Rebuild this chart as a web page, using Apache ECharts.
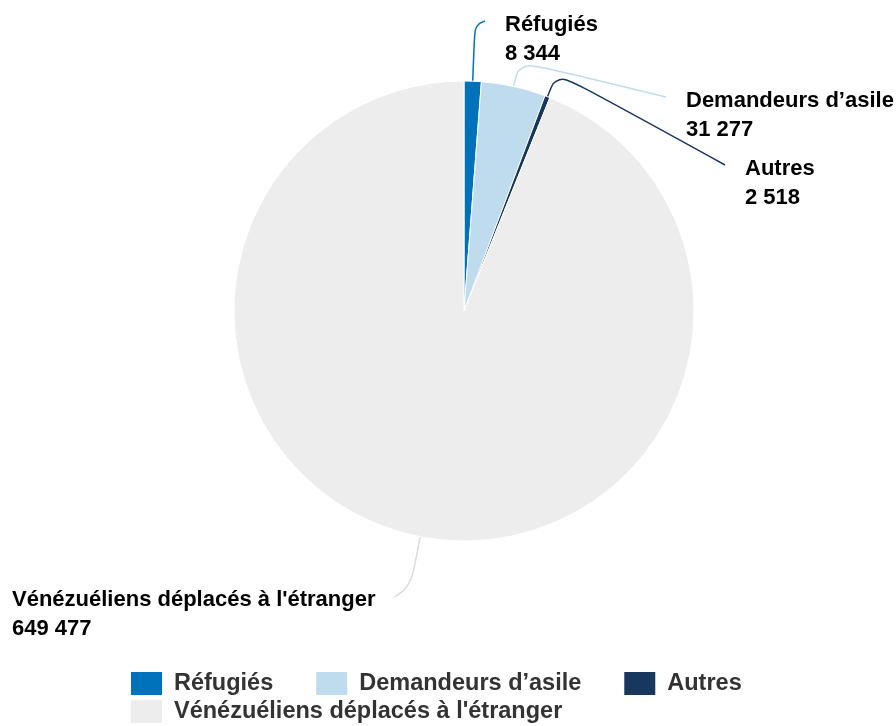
<!DOCTYPE html>
<html>
<head>
<meta charset="utf-8">
<title>Vénézuéliens déplacés</title>
<script src="https://cdn.jsdelivr.net/npm/echarts@6/dist/echarts.min.js"></script>
<style>
  html, body { margin: 0; padding: 0; background: #fff; }
  #chart { width: 896px; height: 726px; }
</style>
</head>
<body>
<div id="chart"></div>
<script>
  var categories = ['Réfugiés', 'Demandeurs d’asile', 'Autres', "Vénézuéliens déplacés à l'étranger"]
  var values = [8344, 31277, 2518, 649477]
  var colors = ['#0072bc', '#bfdcee', '#18375f', '#ededed']
  var lineColors = ['#0072bc', '#bfdcee', '#18375f', '#dcdcdc']

  // where each label sits (left/top of the text block) and how far its line leaves the pie
  var labelPos = [[505, 10], [686, 86], [745, 154], [12, 585]]
  var lineLen = [56, 26, 26, 50]

  var font = '"Liberation Sans", Arial, sans-serif'

  function fmt(v) {
    return String(v).replace(/\B(?=(\d{3})+(?!\d))/g, ' ')
  }

  var chart = echarts.init(document.getElementById('chart'))

  var pieData = categories.map(function (name, i) {
    return {
      name: name,
      value: values[i],
      itemStyle: { color: colors[i] },
      labelLine: { length: lineLen[i], length2: 10, lineStyle: { color: lineColors[i] } }
    }
  })

  chart.setOption({
    animation: false,
    legend: [
      {
        data: categories.slice(0, 3),
        left: 129,
        top: 670,
        padding: 0,
        icon: 'rect',
        itemWidth: 33,
        itemHeight: 25,
        itemGap: 41,
        selectedMode: false,
        textStyle: { fontFamily: font, fontSize: 23.5, fontWeight: 'bold', color: '#333', padding: [0, 0, 0, 6] }
      },
      {
        data: categories.slice(3),
        left: 129,
        top: 698,
        padding: 0,
        icon: 'rect',
        itemWidth: 33,
        itemHeight: 25,
        selectedMode: false,
        textStyle: { fontFamily: font, fontSize: 23.5, fontWeight: 'bold', color: '#333', padding: [0, 0, 0, 6] }
      }
    ],
    series: [
      {
        type: 'pie',
        center: [464, 311],
        radius: 230,
        startAngle: 90,
        clockwise: true,
        avoidLabelOverlap: false,
        itemStyle: { borderColor: '#fff', borderWidth: 1 },
        emphasis: { disabled: true },
        label: {
          show: true,
          fontFamily: font,
          fontSize: 22,
          fontWeight: 'bold',
          color: '#000',
          lineHeight: 29,
          formatter: function (p) {
            return p.name + '\n' + fmt(p.value)
          }
        },
        labelLine: {
          show: true,
          smooth: 0.4,
          lineStyle: { width: 1.5 }
        },
        labelLayout: function (params) {
          var i = params.dataIndex
          var x = labelPos[i][0]
          var y = labelPos[i][1]
          var pts = params.labelLinePoints
          var res = { x: x, y: y, align: 'left', verticalAlign: 'top' }
          if (pts) {
            var end
            if (x < 464) {
              end = [x + params.labelRect.width + 19, y + 12]
            } else {
              end = [x - 20, y + 11]
            }
            res.labelLinePoints = [pts[0], pts[1], end]
          }
          return res
        },
        data: pieData
      }
    ]
  })
</script>
</body>
</html>
